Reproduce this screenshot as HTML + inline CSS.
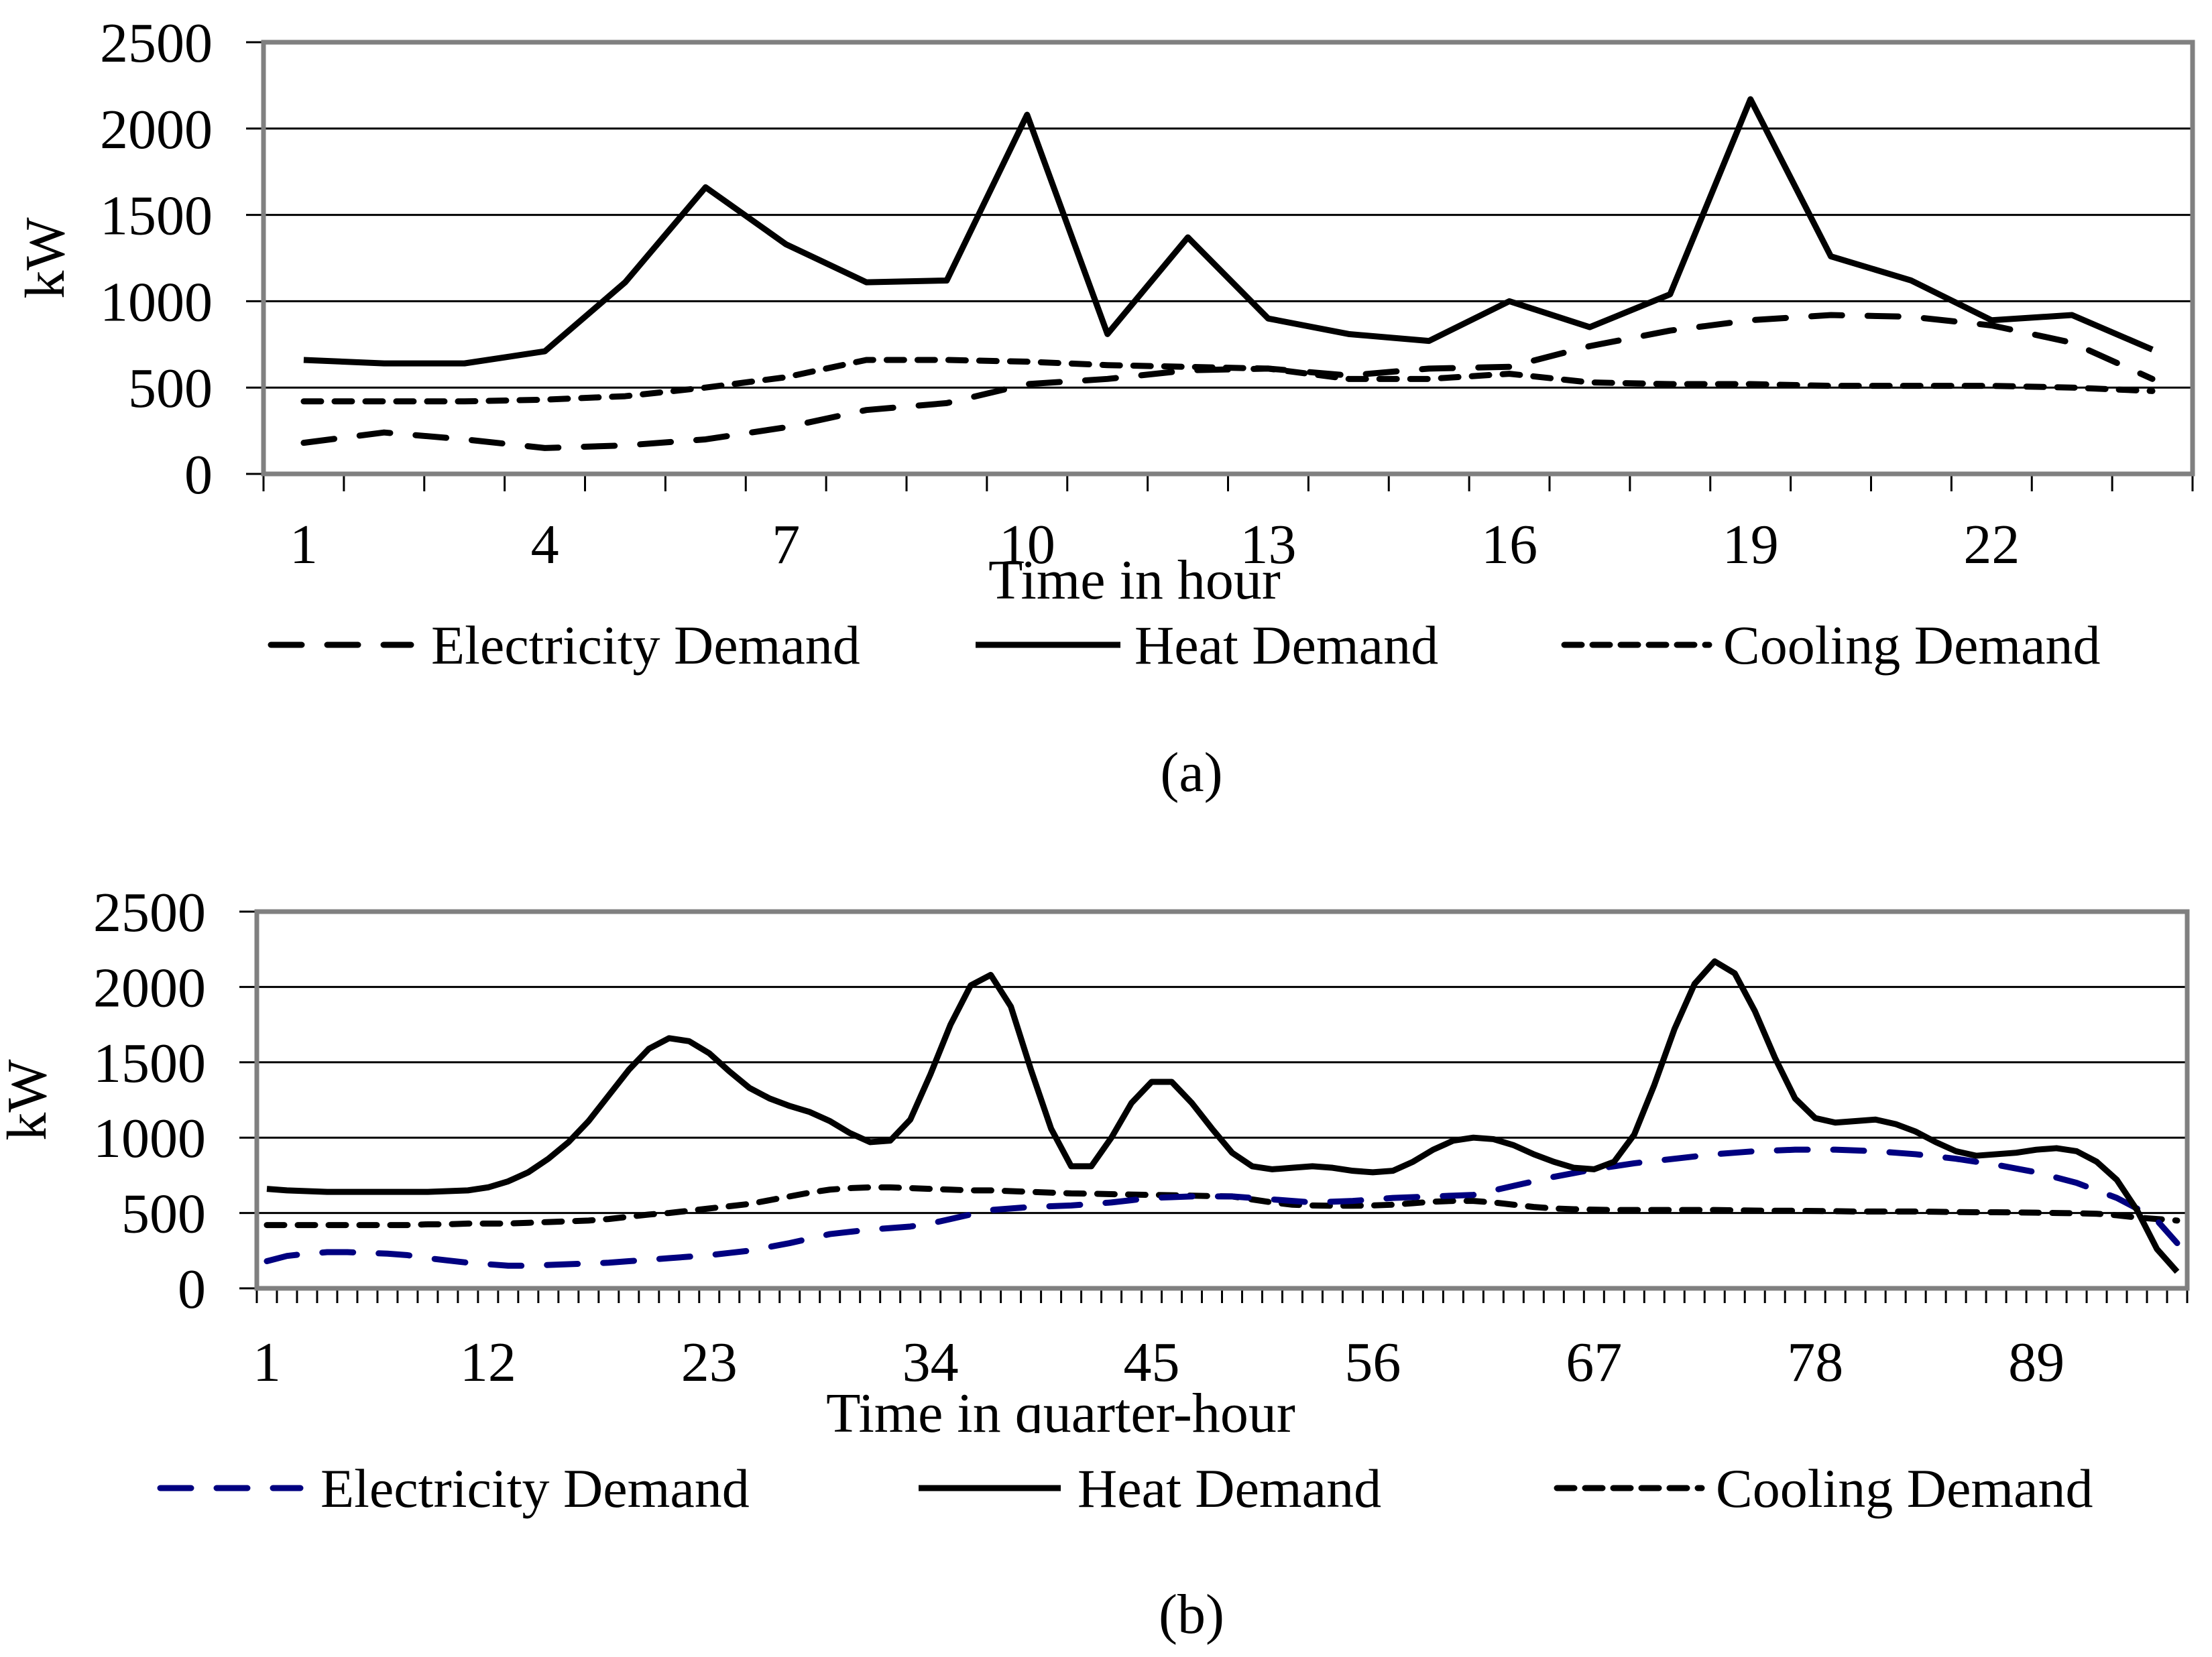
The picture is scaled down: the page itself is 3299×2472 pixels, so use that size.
<!DOCTYPE html>
<html><head><meta charset="utf-8"><style>
html,body{margin:0;padding:0;background:#fff}
svg{display:block}
text{font-family:"Liberation Serif",serif;fill:#000}
</style></head><body>
<svg id="s" width="3299" height="2472" viewBox="0 0 3299 2472"></svg>
<script>
const hours = Array.from({length:24},(_,i)=>i+1);
const heatA = [660,640,640,710,1110,1660,1330,1110,1120,2080,810,1370,900,810,770,1000,850,1040,2170,1260,1120,890,920,720];
const elecA = [180,240,200,150,165,200,270,370,410,520,550,600,610,570,610,620,740,830,890,920,910,860,760,550];
const coolA = [420,420,420,430,450,500,560,660,660,650,630,620,610,550,550,580,530,520,520,510,510,510,500,480];
const heatB = [660,650,645,640,640,640,640,640,640,645,650,670,710,770,860,970,1110,1280,1450,1590,1660,1640,1560,1440,1330,1260,1210,1170,1110,1030,970,980,1120,1420,1750,2010,2080,1870,1450,1060,810,810,1000,1230,1370,1370,1230,1060,900,810,790,800,810,800,780,770,780,840,920,980,1000,990,950,890,840,800,790,840,1020,1350,1720,2020,2170,2090,1840,1530,1260,1130,1100,1110,1120,1090,1040,970,910,880,890,900,920,930,910,840,720,520,260,110];
const elecB = [180,215,230,240,240,235,230,220,200,185,170,160,150,150,155,160,165,170,180,190,200,210,220,235,250,275,300,330,360,375,390,400,410,430,460,490,520,530,540,545,550,560,570,585,600,605,610,610,610,600,590,580,570,575,580,590,600,605,610,615,620,650,680,710,740,765,790,810,830,845,860,875,890,900,910,915,920,920,920,915,910,900,890,875,860,840,820,795,770,735,700,650,600,530,450,300];
const coolB = [420,420,420,420,420,420,420,420,425,425,430,430,430,435,440,445,450,460,475,490,500,515,530,545,560,585,610,635,655,665,670,670,665,660,655,650,650,645,640,635,630,628,625,622,620,618,615,612,610,590,570,555,550,548,548,550,555,565,575,580,580,570,555,540,530,525,522,520,520,520,520,520,520,518,516,515,515,513,512,510,510,510,510,508,506,505,505,504,502,500,498,495,485,470,460,450];
const yTicks = [0,500,1000,1500,2000,2500];
const xLabelsA = [1,4,7,10,13,16,19,22];
const xLabelsB = [1,12,23,34,45,56,67,78,89];

const NS="http://www.w3.org/2000/svg", svg=document.getElementById('s');
function el(t,a,p){const e=document.createElementNS(NS,t);for(const k in a)e.setAttribute(k,a[k]);(p||svg).appendChild(e);return e;}
const FS=82;
function chart(cfg){
  const g=el('g',{});
  
  
  const {L,R,T,B,n}=cfg; const cw=(R-L)/n;
  const y=v=>B-(v/2500)*(B-T); const x=i=>L+(i+0.5)*cw;
  yTicks.forEach(v=>{
    if(v>0&&v<2500){const gl=el('line',{x1:L,x2:R,y1:y(v),y2:y(v),stroke:'#000','stroke-width':3},g);
      }
    el('line',{x1:L-26,x2:L,y1:y(v),y2:y(v),stroke:'#000','stroke-width':3},g);
    const t=el('text',{x:L-76,y:y(v)+29,'text-anchor':'end','font-size':84},g);t.textContent=v;
    
  });
  for(let i=0;i<=n;i++) el('line',{x1:L+i*cw,x2:L+i*cw,y1:B,y2:B+(cfg.tk||26),stroke:'#000','stroke-width':3},g);
  cfg.xl.forEach(v=>{const t=el('text',{x:x(v-1),y:cfg.xly,'text-anchor':'middle','font-size':84},g);t.textContent=v;
    });
  const fr=el('rect',{x:L,y:T,width:R-L,height:B-T,fill:'none',stroke:'#808080','stroke-width':7},g);
  
  cfg.series.forEach(s=>{
    const p=el('polyline',{points:s.d.map((v,i)=>x(i)+','+y(v)).join(' '),fill:'none',stroke:s.c,'stroke-width':9,'stroke-linejoin':'round','stroke-linecap':s.dash?'round':'butt'},g);
    if(s.dash)p.setAttribute('stroke-dasharray',s.dash);
    
  });
  const yt=el('text',{transform:`translate(${cfg.ytx},${(T+B)/2}) rotate(-90)`,'text-anchor':'middle','font-size':84},g);yt.textContent='kW';
  
  const xt=el('text',{x:cfg.xtx,y:cfg.xty,'text-anchor':'middle','font-size':84},g);xt.textContent=cfg.xt;
  
  if(cfg.clip){el('rect',{x:1150,y:cfg.clip,width:900,height:60,fill:'#fff'},g);}
  cfg.leg.forEach(l=>{
    const lg=el('g',{},g);
    const ln=el('line',{x1:l.x1,x2:l.x2,y1:cfg.ly,y2:cfg.ly,stroke:l.c,'stroke-width':9,'stroke-linecap':l.dash?'round':'butt'},lg);
    if(l.dash)ln.setAttribute('stroke-dasharray',l.dash);
    const t=el('text',{x:l.tx,y:cfg.ly+28,'font-size':FS},lg);t.textContent=l.t;
  });
  const cap=el('text',{x:1777,y:cfg.capy,'text-anchor':'middle','font-size':84},g);cap.textContent=cfg.cap;
  
}
chart({name:'chart-a-hourly',L:393,R:3270,T:63,B:707,n:24,xl:xLabelsA,xly:840,ytx:95,xt:'Time in hour',xtx:1692,xty:893,
  series:[{d:coolA,c:'#000',dash:'26 20',n:'cooling-demand-line'},{d:elecA,c:'#000',dash:'46 38',n:'electricity-demand-line'},{d:heatA,c:'#000',n:'heat-demand-line'}],
  ly:962,leg:[{x1:404,x2:613,tx:643,t:'Electricity Demand',c:'#000',dash:'46 38'},{x1:1455,x2:1671,tx:1692,t:'Heat Demand',c:'#000'},{x1:2333,x2:2549,tx:2570,t:'Cooling Demand',c:'#000',dash:'26 16'}],
  capy:1180,cap:'(a)'});
chart({name:'chart-b-quarter-hourly',L:383,R:3262,T:1360,B:1922,n:96,tk:22,xl:xLabelsB,xly:2060,ytx:68,xt:'Time in quarter-hour',xtx:1582,xty:2136,clip:2138,
  series:[{d:coolB,c:'#000',dash:'26 20',n:'cooling-demand-line'},{d:elecB,c:'#000080',dash:'46 38',n:'electricity-demand-line'},{d:heatB,c:'#000',n:'heat-demand-line'}],
  ly:2220,leg:[{x1:239,x2:448,tx:478,t:'Electricity Demand',c:'#000080',dash:'46 38'},{x1:1370,x2:1582,tx:1607,t:'Heat Demand',c:'#000'},{x1:2322,x2:2538,tx:2559,t:'Cooling Demand',c:'#000',dash:'26 16'}],
  capy:2436,cap:'(b)'});
</script>
</body></html>
